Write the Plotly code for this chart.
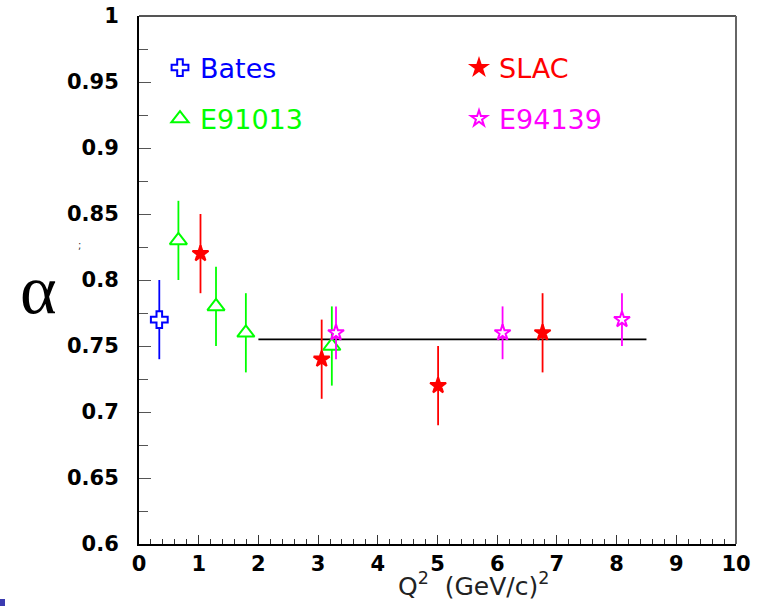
import plotly.graph_objects as go

# ---- data ----
bates_q2 = [0.34]
bates_alpha = [0.77]
bates_err = [0.03]

e91013_q2 = [0.66, 1.29, 1.79, 3.23]
e91013_alpha = [0.83, 0.78, 0.76, 0.75]
e91013_err = [0.03, 0.03, 0.03, 0.03]

slac_q2 = [1.03, 3.06, 5.01, 6.76]
slac_alpha = [0.82, 0.74, 0.72, 0.76]
slac_err = [0.03, 0.03, 0.03, 0.03]

e94139_q2 = [3.30, 6.09, 8.09]
e94139_alpha = [0.76, 0.76, 0.77]
e94139_err = [0.02, 0.02, 0.02]

fit_q2 = [2.0, 8.5]
fit_alpha = [0.755, 0.755]

y_tick_vals = [0.6, 0.65, 0.7, 0.75, 0.8, 0.85, 0.9, 0.95, 1.0]
y_tick_text = ["0.6", "0.65", "0.7", "0.75", "0.8", "0.85", "0.9", "0.95", "1"]
x_tick_vals = [0, 1, 2, 3, 4, 5, 6, 7, 8, 9, 10]
x_tick_text = ["0", "1", "2", "3", "4", "5", "6", "7", "8", "9", "10"]

# ---- figure ----
W, H = 764, 606
L, R, T, B = 139, 28, 16, 62
pw, ph = W - L - R, H - T - B


def px_x(px):
    return (px - L) / pw


def px_y(py):
    return (H - B - py) / ph


fig = go.Figure()

fig.add_trace(go.Scatter(
    x=fit_q2, y=fit_alpha, mode="lines",
    line=dict(color="black", width=1.6), showlegend=False, hoverinfo="skip"))


def add_series(name, xs, ys, errs, color, symbol, fill, size, legend):
    fig.add_trace(go.Scatter(
        x=xs, y=ys, mode="markers", name=name, legend=legend,
        error_y=dict(type="data", array=errs, visible=True,
                     color=color, thickness=1.8, width=0),
        marker=dict(symbol=symbol, size=size, color=fill,
                    line=dict(color=color, width=2)),
    ))


add_series("Bates", bates_q2, bates_alpha, bates_err, "#0000ff", "cross", "white", 14, "legend")
add_series("E91013", e91013_q2, e91013_alpha, e91013_err, "#00ff00", "triangle-up", "white", 15, "legend2")
add_series("SLAC", slac_q2, slac_alpha, slac_err, "#ff0000", "star", "#ff0000", 12, "legend3")
add_series("E94139", e94139_q2, e94139_alpha, e94139_err, "#ff00ff", "star", "white", 12, "legend4")

legend_font = dict(family="DejaVu Sans", size=27)


def leg(x, y, color):
    return dict(x=x, y=y, xanchor="left", yanchor="middle",
                bgcolor="rgba(0,0,0,0)", borderwidth=0,
                font=dict(legend_font, color=color), itemsizing="trace")


fig.update_layout(
    width=W, height=H,
    margin=dict(l=L, r=R, t=T, b=B, pad=0, autoexpand=False),
    paper_bgcolor="white", plot_bgcolor="white",
    legend=leg(px_x(160), px_y(68), "#0000ff"),
    legend2=leg(px_x(160), px_y(119), "#00ff00"),
    legend3=leg(px_x(459), px_y(68), "#ff0000"),
    legend4=leg(px_x(459), px_y(119), "#ff00ff"),
    xaxis=dict(
        range=[0, 10], tickvals=x_tick_vals, ticktext=x_tick_text,
        ticks="inside", ticklen=9, tickwidth=1.2, tickcolor="#333",
        minor=dict(dtick=0.2, tick0=0, ticks="inside", ticklen=5, tickwidth=1.2, tickcolor="#333"),
        showgrid=False, zeroline=False, automargin=False,
        showline=True, linecolor="black", linewidth=2,
        tickfont=dict(family="DejaVu Sans", size=21, weight="bold", color="black"),
        ticklabelstandoff=0,
    ),
    yaxis=dict(
        range=[0.6, 1.0], tickvals=y_tick_vals, ticktext=y_tick_text,
        ticks="inside", ticklen=12, tickwidth=1.2, tickcolor="#555",
        minor=dict(dtick=0.025, tick0=0.6, ticks="inside", ticklen=9, tickwidth=1.2, tickcolor="#555"),
        showgrid=False, zeroline=False, automargin=False,
        showline=True, linecolor="black", linewidth=2,
        tickfont=dict(family="DejaVu Sans", size=21, weight="bold", color="black"),
        ticklabelstandoff=14,
    ),
    shapes=[
        dict(type="line", xref="paper", yref="paper", x0=0, x1=1, y0=1, y1=1,
             line=dict(color="#555", width=2)),
        dict(type="line", xref="paper", yref="paper", x0=1, x1=1, y0=0, y1=1,
             line=dict(color="#666", width=2)),
        dict(type="rect", xref="paper", yref="paper",
             x0=px_x(0), x1=px_x(5), y0=px_y(606), y1=px_y(599),
             fillcolor="#3b3bb0", line=dict(width=0)),
    ],
    annotations=[
        dict(text="Q<sup>2</sup>  (GeV/c)<sup>2</sup>", xref="paper", yref="paper",
             x=px_x(474), y=px_y(603), xanchor="center", yanchor="bottom",
             showarrow=False,
             font=dict(family="DejaVu Sans", size=25, color="#222")),
        dict(text="α", xref="paper", yref="paper", x=px_x(39), y=px_y(289),
             xanchor="center", yanchor="middle", showarrow=False,
             font=dict(family="Liberation Serif", size=70, color="black")),
        dict(text=";", xref="paper", yref="paper", x=px_x(79), y=px_y(245),
             xanchor="center", yanchor="middle", showarrow=False,
             font=dict(family="DejaVu Sans", size=10, color="#333")),
    ],
)

fig.write_html("out.html")
